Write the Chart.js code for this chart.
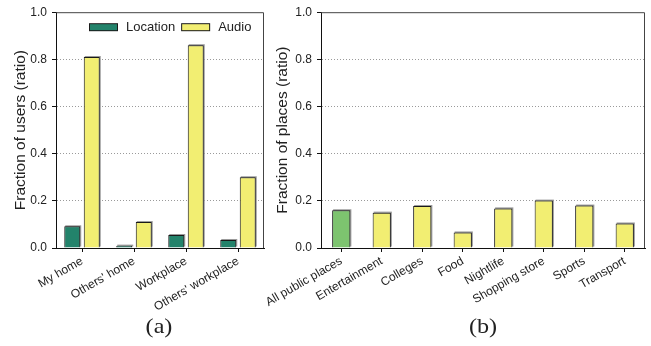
<!DOCTYPE html>
<html>
<head>
<meta charset="utf-8">
<script src="https://cdn.jsdelivr.net/npm/chart.js@4/dist/chart.umd.min.js"></script>
<style>
  html, body { margin: 0; padding: 0; background: #fff; }
  #wrap { position: relative; width: 651px; height: 346px; overflow: hidden; }
  canvas { position: absolute; top: 0; }
  #ca { left: 0; }
  #cb { left: 240px; }
  .sub { position: absolute; top: 314px; font-family: "Liberation Serif", "Times New Roman", serif; font-size: 21px; color: #222; transform: translateX(-50%) scaleX(1.15); }
</style>
</head>
<body>
<div id="wrap">
  <canvas id="ca" width="280" height="346"></canvas>
  <canvas id="cb" width="411" height="346"></canvas>
  <div class="sub" style="left:159px">(a)</div>
  <div class="sub" style="left:483px">(b)</div>
</div>
<script>
// Panel (a): who shares what, by place type
const placesA = ['My home', "Others' home", 'Workplace', "Others' workplace"];
const locationShare = [0.092, 0.010, 0.055, 0.034];
const audioShare = [0.81, 0.11, 0.86, 0.30];

// Panel (b): fraction of public places by category
const placesB = ['All public places', 'Entertainment', 'Colleges', 'Food', 'Nightlife', 'Shopping store', 'Sports', 'Transport'];
const placeFraction = [0.16, 0.15, 0.178, 0.066, 0.168, 0.201, 0.18, 0.104];

const yTickValues = [0, 0.2, 0.4, 0.6, 0.8, 1.0];

const FONT = '"Liberation Sans", Arial, sans-serif';
const INK = '#222';
const TEAL = '#23836b';
const YELLOW = '#f2ee72';
const GREEN = '#7dc46f';

// Thin gray outline offset behind each bar
const barShadow = {
  id: 'barShadow',
  beforeDatasetsDraw(chart) {
    const ctx = chart.ctx;
    ctx.save();
    ctx.fillStyle = '#9a9a9a';
    chart.data.datasets.forEach((ds, i) => {
      chart.getDatasetMeta(i).data.forEach(bar => {
        const w = bar.width;
        const left = bar.x - w / 2;
        const top = Math.min(bar.y, bar.base);
        const h = Math.abs(bar.base - bar.y);
        ctx.fillRect(left + 1, top - 1, w, h);
      });
    });
    ctx.restore();
  }
};

// Top and right edges of the plot frame
const frame = {
  id: 'frame',
  afterDatasetsDraw(chart) {
    const {ctx, chartArea: a} = chart;
    ctx.save();
    ctx.strokeStyle = '#444';
    ctx.lineWidth = 1;
    ctx.beginPath();
    ctx.moveTo(a.left, a.top + 0.5);
    ctx.lineTo(a.right - 0.5, a.top + 0.5);
    ctx.lineTo(a.right - 0.5, a.bottom);
    ctx.stroke();
    ctx.restore();
  }
};

// Horizontal legend drawn inside the plot area
const innerLegend = {
  id: 'innerLegend',
  afterDraw(chart, args, opts) {
    if (!opts.show) return;
    const {ctx, chartArea: a} = chart;
    ctx.save();
    ctx.font = '13px ' + FONT;
    ctx.textBaseline = 'middle';
    let x = a.left + opts.offsetX;
    const yc = a.top + opts.offsetY;
    chart.data.datasets.forEach(ds => {
      ctx.fillStyle = ds.borderColor;
      ctx.fillRect(x, yc - 4, 29, 8);
      ctx.fillStyle = ds.backgroundColor;
      ctx.fillRect(x + 1, yc - 3, 27, 6);
      ctx.fillStyle = INK;
      ctx.fillText(ds.label, x + 37, yc);
      x += 37 + ctx.measureText(ds.label).width + 6;
    });
    ctx.restore();
  }
};

function yScale(title, axisWidth, titlePad) {
  return {
    min: 0, max: 1,
    afterBuildTicks(s) { s.ticks = yTickValues.map(v => ({ value: v })); },
    afterFit(s) { s.width = axisWidth; },
    // border.dash styles the horizontal grid lines; the axis line itself stays solid
    border: { color: '#111', width: 1, dash: [1, 2] },
    grid: {
      color: c => (c.tick && (c.tick.value === 0 || c.tick.value === 1)) ? 'rgba(0,0,0,0)' : '#9a9a9a',
      tickColor: '#111',
      lineWidth: 1,
      tickLength: 4,
      drawTicks: true
    },
    ticks: {
      padding: 5,
      color: INK,
      font: { family: FONT, size: 12 },
      callback: v => Number(v).toFixed(1)
    },
    title: {
      display: true,
      text: title,
      color: INK,
      font: { family: FONT, size: 15.5 },
      padding: { top: titlePad, bottom: 0 }
    }
  };
}

function xScale() {
  return {
    afterFit(s) { s.height = 80; },
    border: { color: '#111', width: 1 },
    grid: { offset: false, drawOnChartArea: false, tickColor: '#111', tickLength: 4 },
    ticks: {
      color: INK,
      font: { family: FONT, size: 12 },
      minRotation: 30, maxRotation: 30,
      autoSkip: false,
      padding: 2
    }
  };
}

function commonOptions(yTitle, axisWidth, titlePad, padLeft, padRight, legend) {
  return {
    responsive: false,
    animation: false,
    devicePixelRatio: 1,
    layout: { padding: { left: padLeft, right: padRight, top: 11, bottom: 18 } },
    plugins: {
      legend: { display: false },
      tooltip: { enabled: false },
      innerLegend: legend
    },
    scales: { x: xScale(), y: yScale(yTitle, axisWidth, titlePad) }
  };
}

new Chart(document.getElementById('ca'), {
  type: 'bar',
  data: {
    labels: placesA,
    datasets: [
      { label: 'Location', data: locationShare, backgroundColor: TEAL, borderColor: '#1a1a1a', borderWidth: 1,
        categoryPercentage: 0.75, barPercentage: 0.82 },
      { label: 'Audio', data: audioShare, backgroundColor: YELLOW, borderColor: '#1a1a1a', borderWidth: 1,
        categoryPercentage: 0.75, barPercentage: 0.82 }
    ]
  },
  options: commonOptions('Fraction of users (ratio)', 56, 11, 0, 16, { show: true, offsetX: 33, offsetY: 15 }),
  plugins: [barShadow, frame, innerLegend]
});

new Chart(document.getElementById('cb'), {
  type: 'bar',
  data: {
    labels: placesB,
    datasets: [
      { label: 'Places', data: placeFraction,
        backgroundColor: placesB.map((p, i) => i === 0 ? GREEN : YELLOW),
        borderColor: '#1a1a1a', borderWidth: 1,
        categoryPercentage: 1, barPercentage: 0.45 }
    ]
  },
  options: commonOptions('Fraction of places (ratio)', 81, 33, 0, 6, { show: false }),
  plugins: [barShadow, frame, innerLegend]
});
</script>
</body>
</html>
